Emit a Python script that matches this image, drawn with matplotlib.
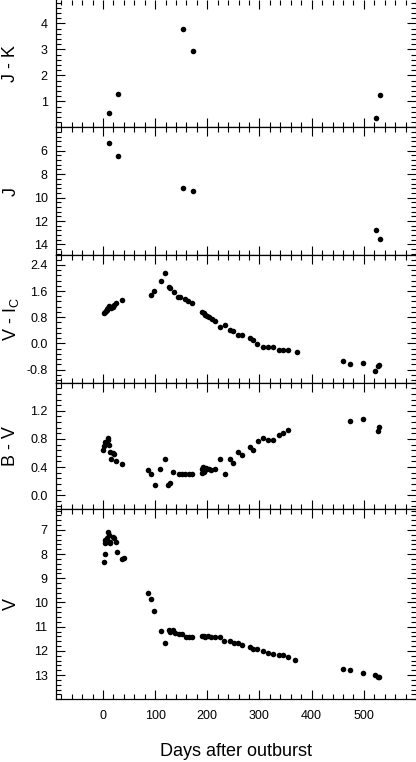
import matplotlib
matplotlib.use("Agg")
import matplotlib.pyplot as plt
from matplotlib.ticker import MultipleLocator, FormatStrFormatter

plt.rcParams['font.family'] = ['Liberation Sans', 'DejaVu Sans']
plt.rcParams['mathtext.fontset'] = 'custom'
plt.rcParams['mathtext.rm'] = 'Liberation Sans'
plt.rcParams['mathtext.it'] = 'Liberation Sans'

# --- data ---
jk_days = [11, 28, 153, 173, 524, 531]
jk_color = [0.54, 1.29, 3.80, 2.92, 0.36, 1.23]
j_mag = [5.37, 6.42, 9.15, 9.43, 12.76, 13.50]

vi_days = [2, 3, 5, 7, 8, 10, 12, 13, 15, 18, 20, 22, 25, 36,
           92, 98, 111, 118, 126, 129, 136, 144, 148, 158, 163, 171,
           190, 193, 196, 199, 204, 209, 215, 225, 233, 243, 250, 259, 267,
           282, 288, 296, 307, 316, 325, 337, 346, 355, 371,
           461, 473, 498, 522, 527, 530]
vi_color = [0.93, 0.96, 0.98, 1.01, 1.05, 1.07, 1.13, 1.10, 1.08, 1.12, 1.10, 1.17, 1.24, 1.32,
            1.48, 1.61, 1.90, 2.14, 1.72, 1.69, 1.58, 1.41, 1.41, 1.36, 1.31, 1.23,
            0.97, 0.92, 0.88, 0.85, 0.80, 0.75, 0.67, 0.51, 0.57, 0.42, 0.39, 0.25, 0.26,
            0.15, 0.10, -0.03, -0.10, -0.12, -0.12, -0.20, -0.20, -0.20, -0.27,
            -0.54, -0.62, -0.61, -0.84, -0.68, -0.66]

bv_days = [1, 2, 4, 6, 9, 10, 11, 13, 15, 19, 22, 25, 36,
           86, 92, 99, 110, 118, 125, 128, 135, 145, 151, 158, 164, 171,
           189, 190, 192, 194, 196, 198, 203, 208, 214,
           225, 233, 243, 250, 259, 266,
           281, 288, 297, 307, 317, 326, 337, 346, 354,
           473, 499, 527, 530]
bv_color = [0.65, 0.70, 0.75, 0.74, 0.81, 0.79, 0.72, 0.62, 0.52, 0.60, 0.58, 0.49, 0.45,
            0.36, 0.30, 0.15, 0.38, 0.51, 0.15, 0.18, 0.33, 0.30, 0.30, 0.30, 0.30, 0.30,
            0.32, 0.37, 0.40, 0.33, 0.36, 0.39, 0.37, 0.36, 0.38,
            0.52, 0.30, 0.51, 0.46, 0.61, 0.57,
            0.68, 0.64, 0.77, 0.81, 0.79, 0.79, 0.86, 0.89, 0.93,
            1.06, 1.08, 0.91, 0.97]

v_days = [2, 3, 3, 4, 5, 6, 8, 10, 11, 13, 14, 19, 22, 25, 26, 37, 41,
          86, 92, 98, 111, 118, 126, 129, 135, 139, 146, 151, 159, 164, 171,
          189, 193, 196, 201, 207, 214, 225, 232, 243, 251, 259, 267,
          281, 287, 296, 307, 316, 326, 337, 346, 354, 369,
          460, 473, 499, 521, 527, 530]
v_mag = [8.33, 8.01, 7.42, 7.55, 7.50, 7.45, 7.35, 7.08, 7.21, 7.49, 7.55, 7.28, 7.35, 7.49, 7.90, 8.22, 8.17,
         9.60, 9.86, 10.35, 11.17, 11.69, 11.14, 11.21, 11.14, 11.27, 11.30, 11.31, 11.41, 11.44, 11.42,
         11.39, 11.39, 11.41, 11.39, 11.41, 11.44, 11.44, 11.59, 11.58, 11.66, 11.66, 11.77,
         11.83, 11.92, 11.93, 12.00, 12.08, 12.13, 12.16, 12.18, 12.24, 12.38,
         12.76, 12.80, 12.91, 12.99, 13.09, 13.07]

x_ticks = [0, 100, 200, 300, 400, 500]

# panel edges in pixels (top, bottom) for a 416x762 figure
W, H = 416, 762
edges = [(0, 127.3), (127.3, 255), (255, 382.7), (382.7, 509.3), (509.3, 699.3)]
left_px = 56

panels = [
    (jk_days, jk_color, "J - K", (0, 4.9), [1, 2, 3, 4], 0.2, "%d"),
    (jk_days, j_mag, "J", (14.9, 4.0), [6, 8, 10, 12, 14], 0.4, "%d"),
    (vi_days, vi_color, r"V - I$_{\rm C}$", (-1.2, 2.7), [-0.8, 0.0, 0.8, 1.6, 2.4], 0.16, "%.1f"),
    (bv_days, bv_color, "B - V", (-0.2, 1.6), [0.0, 0.4, 0.8, 1.2], 0.08, "%.1f"),
    (v_days, v_mag, "V", (14.0, 6.15), [7, 8, 9, 10, 11, 12, 13], 0.2, "%d"),
]

fig = plt.figure(figsize=(W / 100, H / 100), dpi=100)

axes = []
for i, (xd, yd, label, ylim, yt, yminor, fmt) in enumerate(panels):
    top, bot = edges[i]
    ax = fig.add_axes([left_px / W, 1 - bot / H, (W - left_px) / W, (bot - top) / H])
    ax.plot(xd, yd, 'o', color='black', ms=4.0, mec='black', mew=0)
    ax.set_xlim(-90, 600)
    ax.set_ylim(*ylim)
    ax.set_yticks(yt)
    ax.yaxis.set_major_formatter(FormatStrFormatter(fmt))
    ax.yaxis.set_minor_locator(MultipleLocator(yminor))
    ax.set_xticks(x_ticks)
    ax.xaxis.set_minor_locator(MultipleLocator(20))
    ax.tick_params(which='both', direction='in', top=True, right=True,
                   width=0.8, color='black')
    ax.tick_params(which='major', length=6.5)
    ax.tick_params(which='minor', length=3.6)
    ax.tick_params(axis='y', labelsize=9, pad=6)
    ax.tick_params(axis='x', labelsize=9, pad=8)
    for s in ax.spines.values():
        s.set_linewidth(0.9)
    ax.spines['right'].set_visible(False)
    if i == 0:
        ax.spines['top'].set_visible(False)
    if i < len(panels) - 1:
        ax.tick_params(axis='x', labelbottom=False)
    fig.text(11 / W, 1 - (top + bot) / 2 / H, label, rotation=90,
             ha='center', va='center', fontsize=13)
    axes.append(ax)

fig.text((left_px + (W - left_px) / 2) / W, 1 - 752 / H, "Days after outburst",
         ha='center', va='center', fontsize=13)

fig.savefig("out.png", dpi=100)
